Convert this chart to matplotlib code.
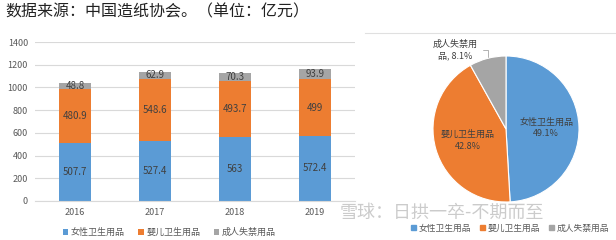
import numpy as np
import matplotlib.pyplot as plt

plt.rcParams['font.family'] = ['Noto Sans CJK SC', 'DejaVu Sans']

# data
years = ["2016", "2017", "2018", "2019"]
female = [507.7, 527.4, 563, 572.4]
baby = [480.9, 548.6, 493.7, 499]
adult = [48.8, 62.9, 70.3, 93.9]

pie_labels = ["女性卫生用品", "婴儿卫生用品", "成人失禁用品"]
pie_share = [49.1, 42.8, 8.1]

colors = ["#5B9BD5", "#ED7D31", "#A5A5A5"]
txt = "#404040"

W, H = 616, 240
fig = plt.figure(figsize=(W / 100, H / 100), dpi=100)

fig.text(5 / W, 1 - 12 / H, "数据来源：中国造纸协会。（单位：亿元）",
         fontsize=11.5, color="#222222", va="center", ha="left")

# stacked bar chart
ax = fig.add_axes([35 / W, 39 / H, 320 / W, 159 / H])
x = np.arange(len(years))
b1 = ax.bar(x, female, 0.4, color=colors[0], label=pie_labels[0])
b2 = ax.bar(x, baby, 0.4, bottom=female, color=colors[1], label=pie_labels[1])
bot3 = np.array(female) + np.array(baby)
b3 = ax.bar(x, adult, 0.4, bottom=bot3, color=colors[2], label=pie_labels[2])
for bars in (b1, b2, b3):
    ax.bar_label(bars, labels=[f"{v.get_height():g}" for v in bars],
                 label_type="center", fontsize=7, color=txt)

ax.set_xlim(-0.5, 3.5)
ax.set_ylim(0, 1400)
ax.set_yticks(range(0, 1401, 200))
ax.set_xticks(x, years)
ax.grid(axis="y", color="#D9D9D9", linewidth=0.8)
ax.set_axisbelow(True)
for s in ["top", "right", "left"]:
    ax.spines[s].set_visible(False)
ax.spines["bottom"].set_color("#D9D9D9")
ax.tick_params(length=0, labelsize=6.5, colors="#595959", pad=5)
ax.legend(loc="upper center", bbox_to_anchor=(0.42, -0.12), ncol=3,
          frameon=False, fontsize=6.5, handlelength=0.6, handleheight=0.6,
          columnspacing=1.5, handletextpad=0.3, labelcolor="#595959")

# pie chart
pax = fig.add_axes([433 / W, 38 / H, 146 / W, 146 / H])
wedges, _ = pax.pie(pie_share, colors=colors, startangle=90, counterclock=False,
                    wedgeprops=dict(edgecolor="white", linewidth=0.8))
pax.set_xlim(-1, 1)
pax.set_ylim(-1, 1)
pax.set_aspect("equal")

for i, w in enumerate(wedges[:2]):
    ang = np.deg2rad((w.theta1 + w.theta2) / 2)
    pax.text(0.55 * np.cos(ang), 0.55 * np.sin(ang),
             f"{pie_labels[i]}\n{pie_share[i]}%", ha="center", va="center",
             fontsize=6.5, color=txt, linespacing=1.4)

w = wedges[2]
ang = np.deg2rad((w.theta1 + w.theta2) / 2)
pax.annotate("成人失禁用\n品, " + f"{pie_share[2]}%",
             xy=(0.98 * np.cos(ang), 0.98 * np.sin(ang)),
             xytext=(-0.7, 1.08), ha="center", va="center",
             fontsize=6.5, color=txt, linespacing=1.4,
             arrowprops=dict(arrowstyle="-", color="#A5A5A5", lw=0.6,
                             connectionstyle="angle,angleA=0,angleB=90,rad=0"))

fig.add_artist(plt.Line2D([365 / W, 1], [1 - 33 / H] * 2, color="#E0E0E0", lw=0.8))

handles = [plt.Rectangle((0, 0), 1, 1, color=c) for c in colors]
fig.legend(handles, pie_labels, loc="center", bbox_to_anchor=(510 / W, 1 - 228 / H),
           ncol=3, frameon=False, fontsize=6.3, handlelength=0.6, handleheight=0.6,
           columnspacing=1.0, handletextpad=0.3, labelcolor="#595959")

# watermark
fig.text(340 / W, 1 - 213 / H, "雪球：日拱一卒-不期而至", fontsize=13,
         color="#BFBFBF", alpha=0.8, va="center", ha="left")

fig.savefig("out.png", dpi=100)
